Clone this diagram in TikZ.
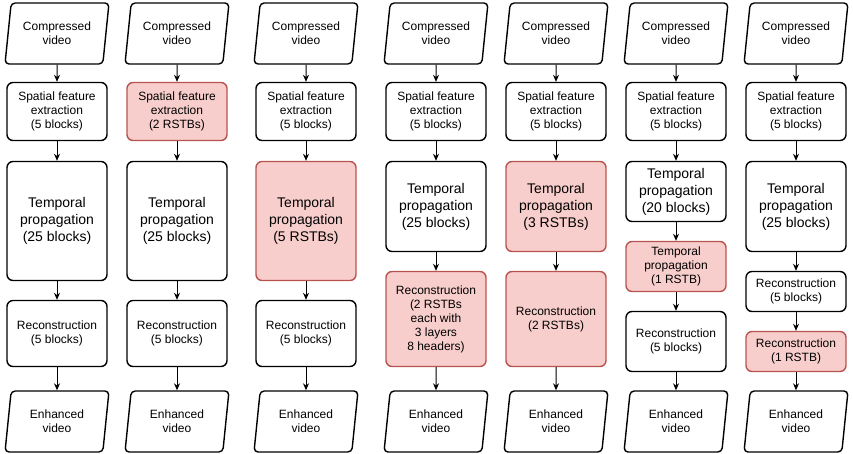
\documentclass[tikz,border=0pt]{standalone}
\usepackage{fontspec}
\setmainfont{Liberation Sans}
\usetikzlibrary{shapes.geometric,arrows.meta}
\definecolor{rstbFill}{HTML}{F8CECC}
\definecolor{rstbLine}{HTML}{B85450}

\begin{document}
\begin{tikzpicture}[x=1pt, y=-1pt,
    blk/.style={draw, line width=1.4pt, rounded corners=6pt, minimum width=100pt,
        align=center, inner sep=2pt, font=\fontsize{12}{14}\selectfont},
    rstb/.style={blk, draw=rstbLine, fill=rstbFill},
    big/.style={font=\fontsize{14}{17}\selectfont},
    ht/.style={minimum height=#1pt},
    io/.style={trapezium, trapezium left angle=76, trapezium right angle=104,
        trapezium stretches body, draw, line width=1.4pt, rounded corners=4pt,
        minimum width=104pt, minimum height=61pt, inner sep=1pt, align=center,
        font=\fontsize{12}{14}\selectfont},
    arr/.style={-{Stealth[length=7pt, width=6pt]}, line width=1pt}]
    \useasboundingbox (0,0) rectangle (853,453);

    % inputs and outputs
    \foreach \c/\x in {1/57, 2/177, 3/306, 4/436, 5/556, 6/676, 7/796} {
        \node[io] (cv\c) at (\x,33.5) {Compressed\\video};
        \node[io] (ev\c) at (\x,421.5) {Enhanced\\video};
    }

    % column 1
    \node[blk, ht=58] (sf1) at (57,111.5) {Spatial feature\\extraction\\(5 blocks)};
    \node[blk, big, ht=119] (tp1) at (57,221) {Temporal\\propagation\\(25 blocks)};
    \node[blk, ht=66] (rc1) at (57,333.5) {Reconstruction\\(5 blocks)};

    % column 2
    \node[rstb, ht=58] (sf2) at (177,111.5) {Spatial feature\\extraction\\(2 RSTBs)};
    \node[blk, big, ht=119] (tp2) at (177,221) {Temporal\\propagation\\(25 blocks)};
    \node[blk, ht=66] (rc2) at (177,333.5) {Reconstruction\\(5 blocks)};

    % column 3
    \node[blk, ht=58] (sf3) at (306,111.5) {Spatial feature\\extraction\\(5 blocks)};
    \node[rstb, big, ht=119] (tp3) at (306,221) {Temporal\\propagation\\(5 RSTBs)};
    \node[blk, ht=66] (rc3) at (306,333.5) {Reconstruction\\(5 blocks)};

    % column 4
    \node[blk, ht=58] (sf4) at (436,111.5) {Spatial feature\\extraction\\(5 blocks)};
    \node[blk, big, ht=90] (tp4) at (436,206.5) {Temporal\\propagation\\(25 blocks)};
    \node[rstb, ht=95] (rc4) at (436,319) {Reconstruction\\(2 RSTBs\\each with\\3 layers\\8 headers)};

    % column 5
    \node[blk, ht=58] (sf5) at (556,111.5) {Spatial feature\\extraction\\(5 blocks)};
    \node[rstb, big, ht=90] (tp5) at (556,206.5) {Temporal\\propagation\\(3 RSTBs)};
    \node[rstb, ht=95] (rc5) at (556,319) {Reconstruction\\(2 RSTBs)};

    % column 6
    \node[blk, ht=58] (sf6) at (676,111.5) {Spatial feature\\extraction\\(5 blocks)};
    \node[blk, big, ht=60] (tp6) at (676,191.5) {Temporal\\propagation\\(20 blocks)};
    \node[rstb, ht=50] (tpb6) at (676,266.5) {Temporal\\propagation\\(1 RSTB)};
    \node[blk, ht=60] (rc6) at (676,341.5) {Reconstruction\\(5 blocks)};

    % column 7
    \node[blk, ht=58] (sf7) at (796,111.5) {Spatial feature\\extraction\\(5 blocks)};
    \node[blk, big, ht=90] (tp7) at (796,206.5) {Temporal\\propagation\\(25 blocks)};
    \node[blk, ht=40] (rc7) at (796,291.5) {Reconstruction\\(5 blocks)};
    \node[rstb, ht=40] (rcb7) at (796,351.5) {Reconstruction\\(1 RSTB)};

    % connectors
    \foreach \c in {1,...,5} {
        \draw[arr] (cv\c) -- (sf\c);
        \draw[arr] (sf\c) -- (tp\c);
        \draw[arr] (tp\c) -- (rc\c);
        \draw[arr] (rc\c) -- (ev\c);
    }
    \draw[arr] (cv6) -- (sf6);
    \draw[arr] (sf6) -- (tp6);
    \draw[arr] (tp6) -- (tpb6);
    \draw[arr] (tpb6) -- (rc6);
    \draw[arr] (rc6) -- (ev6);
    \draw[arr] (cv7) -- (sf7);
    \draw[arr] (sf7) -- (tp7);
    \draw[arr] (tp7) -- (rc7);
    \draw[arr] (rc7) -- (rcb7);
    \draw[arr] (rcb7) -- (ev7);
\end{tikzpicture}
\end{document}
